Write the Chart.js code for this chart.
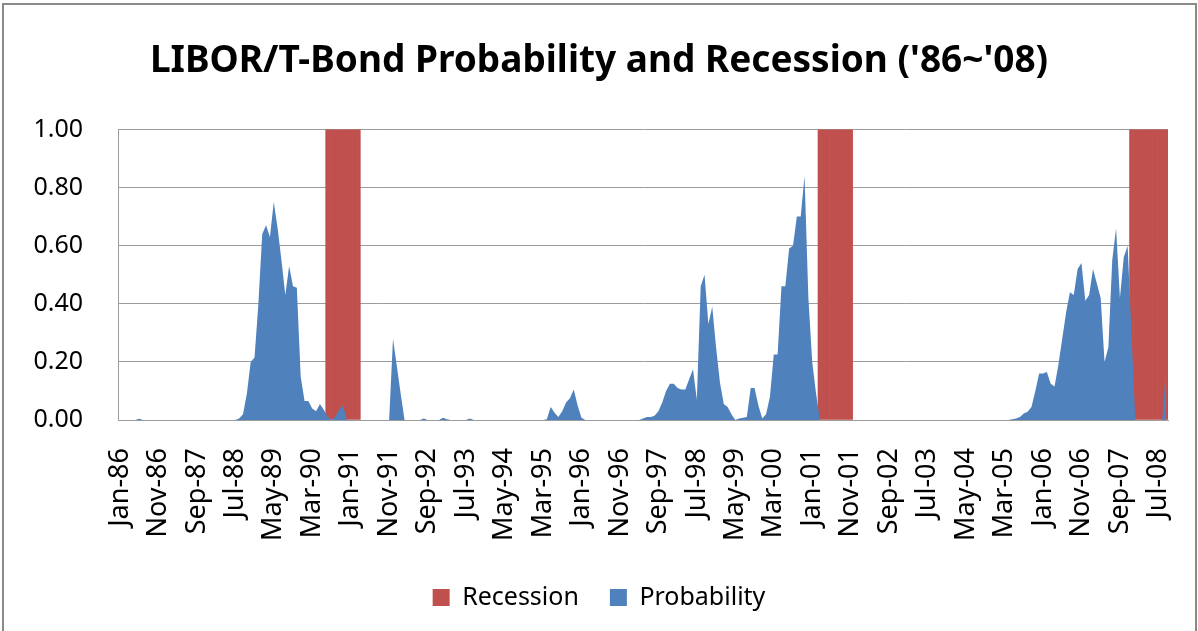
<!DOCTYPE html>
<html>
<head>
<meta charset="utf-8">
<script src="https://cdn.jsdelivr.net/npm/chart.js@4.4.1/dist/chart.umd.min.js"></script>
<style>
  html, body { margin: 0; padding: 0; background: #fff; overflow: hidden; }
  #wrap { position: relative; width: 1198px; height: 631px; }
  #frame {
    position: absolute; left: 2px; top: 3px; width: 1195px; height: 700px;
    box-sizing: border-box; border: 2px solid #8a8a8a; pointer-events: none;
  }
</style>
</head>
<body>
<div id="wrap">
  <canvas id="chart" width="1198" height="631"></canvas>
  <div id="frame"></div>
</div>
<script>
// Monthly series, Jan-86 .. Sep-08 (one row per year)
const MONTHS = ['Jan', 'Feb', 'Mar', 'Apr', 'May', 'Jun', 'Jul', 'Aug', 'Sep', 'Oct', 'Nov', 'Dec'];
const FIRST_YEAR = 1986;
const LABEL_STEP = 10; // a tick label every 10 months

const probability = [
  0, 0, 0, 0, 0, 0.004, 0, 0, 0, 0, 0, 0,                                  // 1986
  0, 0, 0, 0, 0, 0, 0, 0, 0, 0, 0, 0,                                      // 1987
  0, 0, 0, 0, 0, 0, 0, 0.005, 0.02, 0.09, 0.2, 0.215,                      // 1988
  0.40, 0.64, 0.67, 0.63, 0.75, 0.66, 0.55, 0.43, 0.53, 0.46, 0.455, 0.15, // 1989
  0.065, 0.065, 0.04, 0.03, 0.055, 0.035, 0.012, 0, 0.01, 0.035, 0.05, 0,  // 1990
  0, 0, 0, 0, 0, 0, 0, 0, 0, 0, 0, 0.28,                                   // 1991
  0.185, 0.09, 0, 0, 0, 0, 0, 0.005, 0, 0, 0, 0,                          // 1992
  0.008, 0.003, 0, 0, 0, 0, 0, 0.005, 0, 0, 0, 0,                         // 1993
  0, 0, 0, 0, 0, 0, 0, 0, 0, 0, 0, 0,                                      // 1994
  0, 0, 0, 0.003, 0.045, 0.025, 0.01, 0.03, 0.06, 0.075, 0.105, 0.05,      // 1995
  0.008, 0, 0, 0, 0, 0, 0, 0, 0, 0, 0, 0,                                  // 1996
  0, 0, 0, 0, 0.005, 0.01, 0.01, 0.015, 0.03, 0.06, 0.10, 0.125,           // 1997
  0.125, 0.11, 0.105, 0.105, 0.14, 0.175, 0.07, 0.46, 0.50, 0.33, 0.39, 0.25, // 1998
  0.13, 0.055, 0.045, 0.02, 0, 0.005, 0.008, 0.01, 0.11, 0.11, 0.05, 0.005, // 1999
  0.02, 0.08, 0.225, 0.225, 0.46, 0.46, 0.59, 0.60, 0.70, 0.70, 0.84, 0.42, // 2000
  0.2, 0.09, 0, 0, 0, 0, 0, 0, 0, 0, 0, 0,                                 // 2001
  0, 0, 0, 0, 0, 0, 0, 0, 0, 0, 0, 0,                                      // 2002
  0, 0, 0, 0, 0, 0, 0, 0, 0, 0, 0, 0,                                      // 2003
  0, 0, 0, 0, 0, 0, 0, 0, 0, 0, 0, 0,                                      // 2004
  0, 0, 0, 0, 0.003, 0.005, 0.01, 0.022, 0.028, 0.045, 0.10, 0.16,         // 2005
  0.16, 0.165, 0.125, 0.115, 0.19, 0.28, 0.37, 0.44, 0.43, 0.52, 0.54, 0.41, // 2006
  0.43, 0.52, 0.47, 0.42, 0.20, 0.25, 0.55, 0.66, 0.42, 0.56, 0.60, 0.30,  // 2007
  0, 0, 0, 0, 0, 0, 0, 0, 0.18                                             // 2008
];

const recession = [
  0, 0, 0, 0, 0, 0, 0, 0, 0, 0, 0, 0, // 1986
  0, 0, 0, 0, 0, 0, 0, 0, 0, 0, 0, 0, // 1987
  0, 0, 0, 0, 0, 0, 0, 0, 0, 0, 0, 0, // 1988
  0, 0, 0, 0, 0, 0, 0, 0, 0, 0, 0, 0, // 1989
  0, 0, 0, 0, 0, 0, 1, 1, 1, 1, 1, 1, // 1990
  1, 1, 1, 0, 0, 0, 0, 0, 0, 0, 0, 0, // 1991
  0, 0, 0, 0, 0, 0, 0, 0, 0, 0, 0, 0, // 1992
  0, 0, 0, 0, 0, 0, 0, 0, 0, 0, 0, 0, // 1993
  0, 0, 0, 0, 0, 0, 0, 0, 0, 0, 0, 0, // 1994
  0, 0, 0, 0, 0, 0, 0, 0, 0, 0, 0, 0, // 1995
  0, 0, 0, 0, 0, 0, 0, 0, 0, 0, 0, 0, // 1996
  0, 0, 0, 0, 0, 0, 0, 0, 0, 0, 0, 0, // 1997
  0, 0, 0, 0, 0, 0, 0, 0, 0, 0, 0, 0, // 1998
  0, 0, 0, 0, 0, 0, 0, 0, 0, 0, 0, 0, // 1999
  0, 0, 0, 0, 0, 0, 0, 0, 0, 0, 0, 0, // 2000
  0, 0, 1, 1, 1, 1, 1, 1, 1, 1, 1, 0, // 2001
  0, 0, 0, 0, 0, 0, 0, 0, 0, 0, 0, 0, // 2002
  0, 0, 0, 0, 0, 0, 0, 0, 0, 0, 0, 0, // 2003
  0, 0, 0, 0, 0, 0, 0, 0, 0, 0, 0, 0, // 2004
  0, 0, 0, 0, 0, 0, 0, 0, 0, 0, 0, 0, // 2005
  0, 0, 0, 0, 0, 0, 0, 0, 0, 0, 0, 0, // 2006
  0, 0, 0, 0, 0, 0, 0, 0, 0, 0, 0, 1, // 2007
  1, 1, 1, 1, 1, 1, 1, 1, 1           // 2008
];

const yTicks = [0, 0.2, 0.4, 0.6, 0.8, 1.0];

const labels = probability.map((_, i) => {
  const yy = String((FIRST_YEAR + Math.floor(i / 12)) % 100).padStart(2, '0');
  return `${MONTHS[i % 12]}-${yy}`;
});

const RED = '#C0504D';
const BLUE = '#4F81BD';
const GRID = '#9c9c9c';

Chart.defaults.font.family = "'Noto Sans', sans-serif";
Chart.defaults.color = '#000';

new Chart(document.getElementById('chart'), {
  type: 'bar',
  data: {
    labels,
    datasets: [
      {
        type: 'bar',
        label: 'Recession',
        data: recession.map(v => (v ? v : null)),
        backgroundColor: RED,
        borderColor: RED,
        borderWidth: 0,
        barPercentage: 1,
        categoryPercentage: 1,
        order: 2
      },
      {
        type: 'line',
        label: 'Probability',
        data: probability,
        backgroundColor: BLUE,
        borderColor: 'rgba(0,0,0,0)',
        borderWidth: 0,
        pointRadius: 0,
        tension: 0,
        fill: 'origin',
        order: 1
      }
    ]
  },
  options: {
    responsive: false,
    animation: false,
    devicePixelRatio: 1,
    layout: { padding: { left: 30, right: 30, top: 0, bottom: 11 } },
    plugins: {
      tooltip: { enabled: false },
      title: {
        display: true,
        text: "LIBOR/T-Bond Probability and Recession ('86~'08)",
        font: { size: 37, weight: 'bold' },
        color: '#000',
        padding: { top: 39, bottom: 46 }
      },
      legend: {
        position: 'bottom',
        labels: {
          sort: (a, b) => a.datasetIndex - b.datasetIndex,
          boxWidth: 17,
          boxHeight: 17,
          padding: 31,
          font: { size: 25 },
          color: '#000'
        }
      }
    },
    scales: {
      x: {
        offset: true,
        grid: { display: false, drawTicks: false },
        border: { display: true, color: GRID, width: 1 },
        ticks: {
          autoSkip: false,
          minRotation: 90,
          maxRotation: 90,
          padding: 28,
          font: { size: 27 },
          color: '#000',
          callback: (v, i) => (i % LABEL_STEP === 0 ? labels[i] : '')
        },
        afterFit: (scale) => {
          scale.height = 134;
          scale.paddingLeft = 0;
          scale.paddingRight = 0;
        }
      },
      y: {
        min: 0,
        max: 1,
        afterBuildTicks: (scale) => { scale.ticks = yTicks.map(v => ({ value: v })); },
        grid: { color: GRID, lineWidth: 1, drawTicks: false },
        border: { display: true, color: GRID, width: 1 },
        ticks: {
          padding: 35,
          font: { size: 25 },
          color: '#000',
          callback: (v) => Number(v).toFixed(2)
        },
        afterFit: (scale) => { scale.width = 88; }
      }
    }
  }
});
</script>
</body>
</html>
